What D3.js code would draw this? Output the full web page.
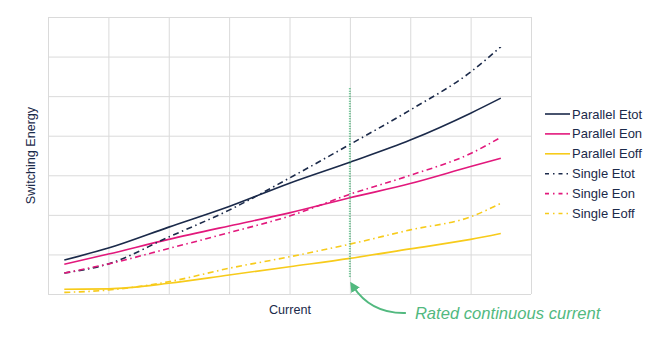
<!DOCTYPE html>
<html>
<head>
<meta charset="utf-8">
<script src="https://cdn.jsdelivr.net/npm/d3@7"></script>
<style>
  html, body { margin: 0; padding: 0; background: #fff; }
  svg { display: block; font-family: "Liberation Sans", Arial, sans-serif; }
</style>
</head>
<body>
<svg id="chart" width="672" height="338"></svg>
<script>
// Current positions (arbitrary units) where each curve is sampled
const current = [0.27, 1, 2, 3, 4, 5, 6, 7, 7.5];

// Switching energy curves (arbitrary units)
const parallelEtot = [0.86, 1.16, 1.69, 2.21, 2.80, 3.33, 3.89, 4.57, 4.95];
const parallelEon  = [0.75, 1.01, 1.38, 1.72, 2.05, 2.43, 2.79, 3.22, 3.43];
const parallelEoff = [0.12, 0.13, 0.27, 0.48, 0.69, 0.90, 1.14, 1.38, 1.53];
const singleEtot   = [0.53, 0.76, 1.44, 2.12, 2.93, 3.78, 4.65, 5.61, 6.25];
const singleEon    = [0.53, 0.76, 1.15, 1.55, 1.97, 2.52, 3.00, 3.55, 3.96];
const singleEoff   = [0.04, 0.10, 0.31, 0.65, 0.94, 1.26, 1.62, 1.95, 2.29];

const seriesNames = ["Parallel Etot", "Parallel Eon", "Parallel Eoff", "Single Etot", "Single Eon", "Single Eoff"];
const seriesValues = [parallelEtot, parallelEon, parallelEoff, singleEtot, singleEon, singleEoff];
const seriesColors = ["#1b2a4a", "#e2187c", "#f7cb1b", "#1b2a4a", "#e2187c", "#f7cb1b"];
const seriesDashed = [false, false, false, true, true, true];

// Grid positions (no tick labels are shown)
const xTicks = [0, 1, 2, 3, 4, 5, 6, 7, 8];
const yTicks = [0, 1, 2, 3, 4, 5, 6, 7];

const ratedCurrent = 5;
const ratedLineSpan = [0.4, 5.2];

const svg = d3.select("#chart");
const margin = { left: 48, top: 17, right: 141, bottom: 44 };
const W = 672, H = 338;

const x = d3.scaleLinear().domain([0, 8]).range([margin.left, W - margin.right]);
const y = d3.scaleLinear().domain([0, 7]).range([H - margin.bottom, margin.top]);

const plotH = y(0) - y(7);
const plotW = x(8) - x(0);

// Grid
const gx = svg.append("g")
  .attr("transform", `translate(0,${y(0)})`)
  .call(d3.axisBottom(x).tickValues(xTicks).tickSize(-plotH).tickFormat(""));
const gy = svg.append("g")
  .attr("transform", `translate(${x(0)},0)`)
  .call(d3.axisLeft(y).tickValues(yTicks).tickSize(-plotW).tickFormat(""));
[gx, gy].forEach(g => {
  g.select(".domain").remove();
  g.selectAll(".tick line").attr("stroke", "#dadada").attr("stroke-width", 1);
});

// Curves
const line = d3.line()
  .x((d, i) => x(current[i]))
  .y(d => y(d))
  .curve(d3.curveMonotoneX);

const dashPattern = "6,3.5,1.5,3.5";

seriesValues.forEach((vals, k) => {
  svg.append("path")
    .datum(vals)
    .attr("fill", "none")
    .attr("stroke", seriesColors[k])
    .attr("stroke-width", 1.6)
    .attr("stroke-dasharray", seriesDashed[k] ? dashPattern : null)
    .attr("d", line);
});

// Rated current marker
const green = "#52b97f";
svg.append("line")
  .attr("x1", x(ratedCurrent)).attr("x2", x(ratedCurrent))
  .attr("y1", y(ratedLineSpan[1])).attr("y2", y(ratedLineSpan[0]))
  .attr("stroke", green)
  .attr("stroke-width", 2)
  .attr("stroke-dasharray", "1,1.5");

// Curved arrow from the annotation to the marker
svg.append("defs").append("marker")
  .attr("id", "arrowhead")
  .attr("viewBox", "0 0 10 10")
  .attr("refX", 5).attr("refY", 5)
  .attr("markerWidth", 5).attr("markerHeight", 5)
  .attr("markerUnits", "strokeWidth")
  .attr("orient", "auto")
  .append("path")
  .attr("d", "M0,0 L10,5 L0,10 z")
  .attr("fill", green);

const ax0 = x(ratedCurrent) + 56, ay0 = y(0) + 19;
const ax1 = x(ratedCurrent) + 3, ay1 = y(0) - 8;
svg.append("path")
  .attr("d", `M${ax0},${ay0} Q${ax1 + 18},${ay0 + 1} ${ax1},${ay1}`)
  .attr("fill", "none")
  .attr("stroke", green)
  .attr("stroke-width", 2)
  .attr("marker-end", "url(#arrowhead)");

svg.append("text")
  .attr("x", x(ratedCurrent) + 65)
  .attr("y", y(0) + 25)
  .attr("fill", green)
  .attr("font-size", 16.6)
  .attr("font-style", "italic")
  .text("Rated continuous current");

// Axis titles
const textColor = "#1b2a4a";
svg.append("text")
  .attr("x", (x(0) + x(8)) / 2 + 0.5)
  .attr("y", y(0) + 20)
  .attr("text-anchor", "middle")
  .attr("fill", textColor)
  .attr("font-size", 12.6)
  .text("Current");

svg.append("text")
  .attr("transform", `translate(35,${(y(0) + y(7)) / 2}) rotate(-90)`)
  .attr("text-anchor", "middle")
  .attr("fill", textColor)
  .attr("font-size", 12.6)
  .text("Switching Energy");

// Legend
const legend = svg.append("g").attr("transform", "translate(545,114)");
seriesNames.forEach((name, k) => {
  const row = legend.append("g").attr("transform", `translate(0,${k * 19.9})`);
  row.append("line")
    .attr("x1", 0).attr("x2", 25)
    .attr("y1", 0).attr("y2", 0)
    .attr("stroke", seriesColors[k])
    .attr("stroke-width", 1.6)
    .attr("stroke-dasharray", seriesDashed[k] ? "4,4,1.5,4" : null);
  row.append("text")
    .attr("x", 27)
    .attr("y", 0)
    .attr("dy", "0.35em")
    .attr("fill", textColor)
    .attr("font-size", 13)
    .text(name);
});
</script>
</body>
</html>
